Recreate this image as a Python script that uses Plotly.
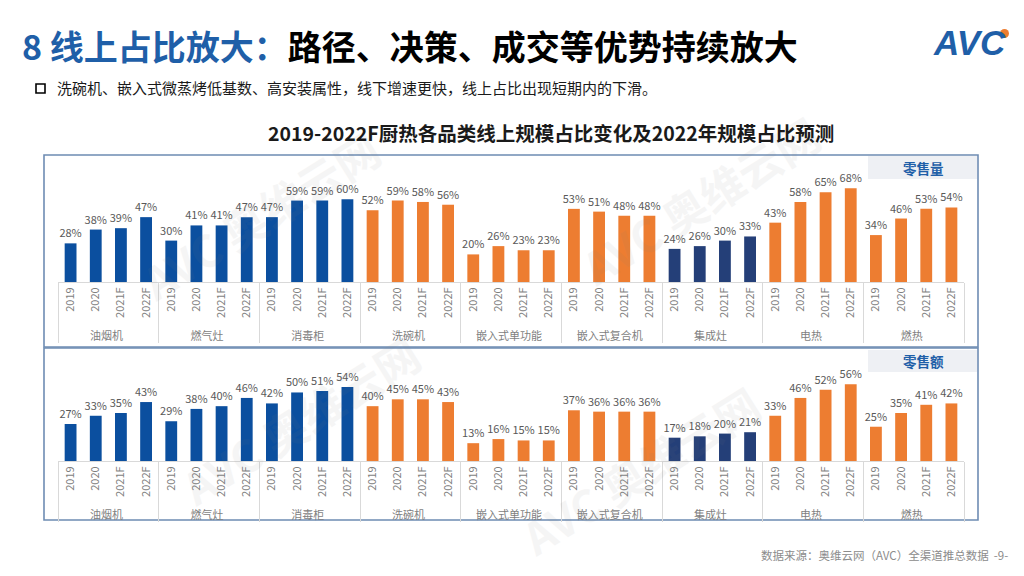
import plotly.graph_objects as go

# ---------------- data ----------------
groups = ["油烟机", "燃气灶", "消毒柜", "洗碗机", "嵌入式单功能", "嵌入式复合机", "集成灶", "电热", "燃热"]
years = ["2019", "2020", "2021F", "2022F"]

# 零售量 online share (%)
vol_share = [28, 38, 39, 47,
             30, 41, 41, 47,
             47, 59, 59, 60,
             52, 59, 58, 56,
             20, 26, 23, 23,
             53, 51, 48, 48,
             24, 26, 30, 33,
             43, 58, 65, 68,
             34, 46, 53, 54]

# 零售额 online share (%)
val_share = [27, 33, 35, 43,
             29, 38, 40, 46,
             42, 50, 51, 54,
             40, 45, 45, 43,
             13, 16, 15, 15,
             37, 36, 36, 36,
             17, 18, 20, 21,
             33, 46, 52, 56,
             25, 35, 41, 42]

panel_labels = ["零售量", "零售额"]

# ---------------- styling ----------------
BLUE = "#0B4F9F"
NAVY = "#243F78"
ORANGE = "#ED7D31"
group_color = {"油烟机": BLUE, "燃气灶": BLUE, "消毒柜": BLUE,
               "洗碗机": ORANGE, "嵌入式单功能": ORANGE, "嵌入式复合机": ORANGE,
               "集成灶": NAVY, "电热": ORANGE, "燃热": ORANGE}
FONT = "Noto Sans CJK SC, sans-serif"
W, H = 1024, 576
OFF = 8  # page body margin


def px(x):
    return (x - OFF) / W


def py(y):
    return 1 - (y - OFF) / H


x_outer = [g for g in groups for _ in years]
x_inner = [y for _ in groups for y in years]
colors = [group_color[g] for g in x_outer]

fig = go.Figure()
for i, vals in enumerate([vol_share, val_share]):
    fig.add_trace(go.Bar(
        x=[x_outer, x_inner], y=vals,
        marker=dict(color=colors, line=dict(width=0)),
        texttemplate="%{y}%", textposition="outside", constraintext="none",
        textfont=dict(size=11, color="#595959", family=FONT),
        cliponaxis=False, showlegend=False, hoverinfo="skip",
        xaxis="x" if i == 0 else "x2", yaxis="y" if i == 0 else "y2",
    ))

xcommon = dict(type="multicategory", tickangle=-90,
               tickfont=dict(size=11, color="#7F7F7F", family=FONT),
               showline=True, linecolor="#D9D9D9", linewidth=1,
               showdividers=True, dividercolor="#D9D9D9", dividerwidth=1,
               ticks="", showgrid=False, zeroline=False, fixedrange=True)
ycommon = dict(visible=False, showgrid=False, zeroline=False, fixedrange=True)

fig.update_layout(
    width=W, height=H,
    margin=dict(l=0, r=0, t=0, b=0),
    paper_bgcolor="white", plot_bgcolor="rgba(0,0,0,0)",
    bargap=0.53,
    font=dict(family=FONT),
    xaxis=dict(domain=[px(58), px(964)], anchor="y", **xcommon),
    yaxis=dict(domain=[py(282), py(156)], range=[0, 91.3], anchor="x", **ycommon),
    xaxis2=dict(domain=[px(58), px(964)], anchor="y2", **xcommon),
    yaxis2=dict(domain=[py(461), py(349)], range=[0, 81.7], anchor="x2", **ycommon),
)

shapes = []
annotations = []
# panel frames
BORDER = "#6E8CB3"
for (y0, y1) in [(155, 347), (348, 520)]:
    shapes.append(dict(type="rect", xref="paper", yref="paper",
                       x0=px(44), x1=px(978), y0=py(y1), y1=py(y0),
                       line=dict(color=BORDER, width=1.6), fillcolor="rgba(0,0,0,0)", layer="below"))
# panel label boxes
for lab, (y0, y1) in zip(panel_labels, [(156, 179), (350, 372)]):
    shapes.append(dict(type="rect", xref="paper", yref="paper",
                       x0=px(868), x1=px(977), y0=py(y1), y1=py(y0),
                       line=dict(width=0), fillcolor="#EEF0F4", layer="below"))
    annotations.append(dict(text="<b>%s</b>" % lab, xref="paper", yref="paper",
                            x=px(923), y=py((y0 + y1) / 2), showarrow=False,
                            xanchor="center", yanchor="middle",
                            font=dict(size=13.5, color="#1F5FA8", family=FONT)))

# faint watermarks
for (wx, wy) in [(260, 215), (700, 200), (300, 420), (640, 470)]:
    annotations.append(dict(text="<b>AVC 奥维云网</b>", xref="paper", yref="paper",
                            x=px(wx), y=py(wy), showarrow=False, textangle=-32,
                            xanchor="center", yanchor="middle", opacity=0.07,
                            font=dict(size=44, color="#7F7F7F", family=FONT)))

# main title
annotations.append(dict(
    text="<b><span style='color:#1F5FA8'>8 线上占比放大：</span>路径、决策、成交等优势持续放大</b>",
    xref="paper", yref="paper", x=px(20), y=py(46), xanchor="left", yanchor="middle",
    showarrow=False, font=dict(size=34, color="#000000", family=FONT)))
# subtitle bullet
shapes.append(dict(type="rect", xref="paper", yref="paper",
                   x0=px(36), x1=px(45), y0=py(93), y1=py(84),
                   line=dict(color="#000000", width=1.6), fillcolor="white"))
annotations.append(dict(
    text="洗碗机、嵌入式微蒸烤低基数、高安装属性，线下增速更快，线上占比出现短期内的下滑。",
    xref="paper", yref="paper", x=px(55), y=py(88), xanchor="left", yanchor="middle",
    showarrow=False, font=dict(size=15, color="#1A1A1A", family=FONT)))
# chart title
annotations.append(dict(
    text="<b>2019-2022F厨热各品类线上规模占比变化及2022年规模占比预测</b>",
    xref="paper", yref="paper", x=px(551), y=py(133), xanchor="center", yanchor="middle",
    showarrow=False, font=dict(size=19.5, color="#1A1A1A", family=FONT)))
# footer
annotations.append(dict(
    text="数据来源：奥维云网（AVC）全渠道推总数据  -9-",
    xref="paper", yref="paper", x=px(1010), y=py(555), xanchor="right", yanchor="middle",
    showarrow=False, font=dict(size=11.5, color="#8C8C8C", family=FONT)))
# logo
annotations.append(dict(
    text="<b><i>AVC</i></b>", xref="paper", yref="paper", x=px(1008), y=py(43),
    xanchor="right", yanchor="middle", showarrow=False,
    font=dict(size=35, color="#1F5FA8", family="Liberation Sans, Arial, sans-serif")))
shapes.append(dict(type="circle", xref="paper", yref="paper",
                   x0=px(1000), x1=px(1009), y0=py(38), y1=py(29),
                   line=dict(width=0), fillcolor=ORANGE))

fig.update_layout(shapes=shapes, annotations=annotations)
fig.write_html("out.html")
